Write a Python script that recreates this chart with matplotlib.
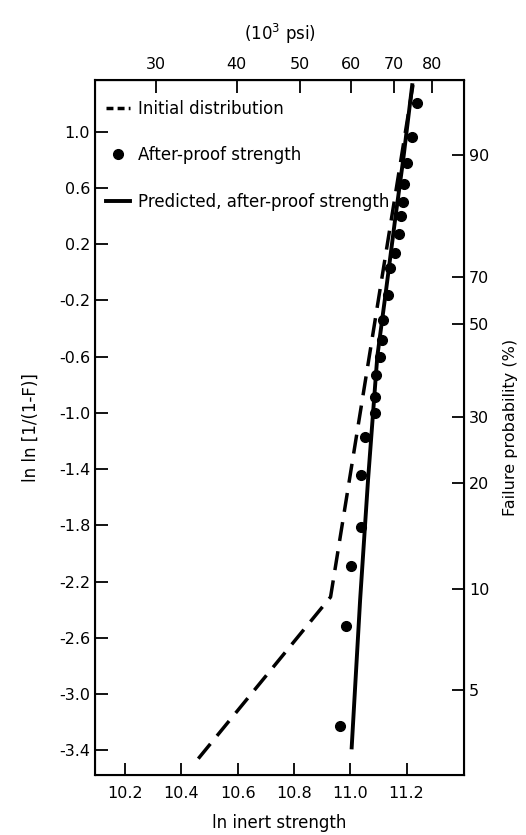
import numpy as np
import matplotlib
matplotlib.use("Agg")
import matplotlib.pyplot as plt
from matplotlib.lines import Line2D

plt.rcParams['font.family'] = ['DejaVu Sans']
plt.rcParams['font.size'] = 11

# after-proof strength points (ln strength, ln ln 1/(1-F))
pts_x = [10.963, 10.985, 11.002, 11.038, 11.037, 11.053, 11.088, 11.088, 11.092, 11.106,
         11.112, 11.118, 11.135, 11.141, 11.158, 11.174, 11.179, 11.186, 11.191, 11.203,
         11.218, 11.236]
pts_y = [-3.23, -2.52, -2.09, -1.81, -1.44, -1.17, -1.00, -0.885, -0.73, -0.60,
         -0.48, -0.34, -0.16, 0.03, 0.14, 0.27, 0.40, 0.50, 0.63, 0.78,
         0.96, 1.20]

# initial distribution (dashed)
init_x = [10.46, 10.93, 11.225]
init_y = [-3.46, -2.31, 1.36]

# predicted after-proof strength (solid)
pred_x = [11.005, 11.035, 11.063, 11.096, 11.127, 11.159, 11.188, 11.220]
pred_y = [-3.38, -2.33, -1.48, -0.60, -0.13, 0.37, 0.80, 1.33]

xticks = [10.2, 10.4, 10.6, 10.8, 11.0, 11.2]
yticks = [1.0, 0.6, 0.2, -0.2, -0.6, -1.0, -1.4, -1.8, -2.2, -2.6, -3.0, -3.4]
psi_ticks = [30, 40, 50, 60, 70, 80]
prob_labels = ['90', '70', '50', '30', '20', '10', '5']
prob_pos = [0.834, -0.035, -0.367, -1.031, -1.50, -2.25, -2.97]

fig = plt.figure(figsize=(5.26, 8.35), dpi=100)
ax = fig.add_axes([0.1806, 0.0719, 0.7015, 0.8323])

ax.plot(init_x, init_y, color='black', lw=2.5, dashes=(5.5, 3))
ax.plot(pred_x, pred_y, color='black', lw=2.8)
ax.plot(pts_x, pts_y, 'o', color='black', ms=7)

ax.set_xlim(10.093, 11.404)
ax.set_ylim(-3.576, 1.367)
ax.set_xticks(xticks)
ax.set_xticklabels(['%.1f' % v for v in xticks])
ax.set_yticks(yticks)
ax.set_yticklabels(['%.1f' % v for v in yticks])
ax.tick_params(direction='in', length=9, width=1.3, labelsize=11.5)
ax.tick_params(axis='x', pad=8)
ax.set_xlabel('ln inert strength', fontsize=12, labelpad=9)
ax.set_ylabel('ln ln [1/(1-F)]', fontsize=12, labelpad=14)

top = ax.secondary_xaxis('top', functions=(lambda v: np.exp(v) / 1000.0,
                                           lambda v: np.log(np.maximum(v, 1e-9) * 1000.0)))
top.set_xticks(psi_ticks)
top.set_xticklabels([str(v) for v in psi_ticks])
top.tick_params(direction='in', length=9, width=1.3, labelsize=11.5, pad=6)
top.set_xlabel('(10$^3$ psi)', fontsize=12, labelpad=12)

right = ax.twinx()
right.set_ylim(ax.get_ylim())
right.set_yticks(prob_pos)
right.set_yticklabels(prob_labels)
right.tick_params(direction='in', length=9, width=1.3, labelsize=11.5)
right.set_ylabel('Failure probability (%)', fontsize=11.5, labelpad=10)

handles = [Line2D([], [], color='black', lw=2.5, dashes=(2, 1.2)),
           Line2D([], [], marker='o', ls='none', color='black', ms=7),
           Line2D([], [], color='black', lw=2.8)]
labels = ['Initial distribution', 'After-proof strength', 'Predicted, after-proof strength']
ax.legend(handles, labels, loc='upper left', bbox_to_anchor=(-0.01, 0.993), frameon=False,
          handlelength=1.4, handletextpad=0.5, labelspacing=1.7, fontsize=12)

for s in ax.spines.values():
    s.set_linewidth(1.5)

fig.savefig('out.png', dpi=100)
